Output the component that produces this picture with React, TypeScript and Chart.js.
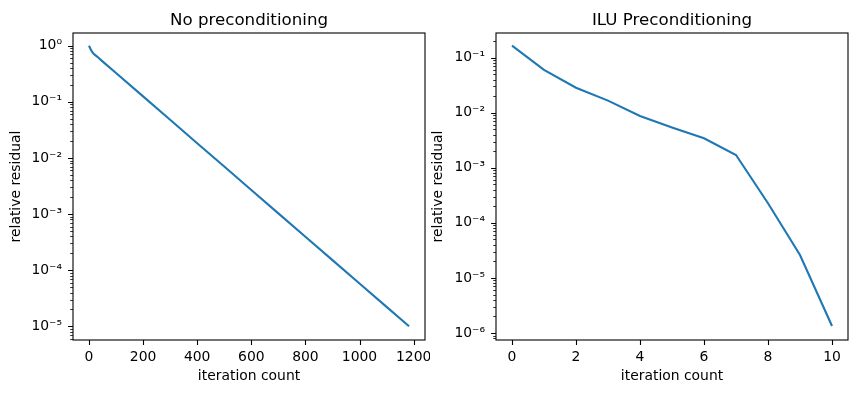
import React, { useEffect, useRef } from "react";
import { Chart, registerables } from "chart.js";
Chart.register(...registerables);

// ---- data ----
const plainIters = [0, 5, 10, 15, 20, 30, 50, 100, 200, 300, 400, 500, 600, 700, 800, 900, 1000, 1100, 1183];
const plainResidual = [1.0, 0.89, 0.8, 0.74, 0.7, 0.64, 0.526, 0.325, 0.125, 0.0478, 0.0183, 0.00702, 0.00269, 0.00103, 3.94e-4, 1.51e-4, 5.79e-5, 2.22e-5, 1.0e-5];
const iluIters = [0, 1, 2, 3, 4, 5, 6, 7, 8, 9, 10];
const iluResidual = [0.165, 0.06, 0.0285, 0.0166, 0.00873, 0.0054, 0.00344, 0.00171, 2.27e-4, 2.61e-5, 1.34e-6];

const plainXTicks = [0, 200, 400, 600, 800, 1000, 1200];
const plainYTicks = [1e-5, 1e-4, 1e-3, 1e-2, 1e-1, 1];
const iluXTicks = [0, 2, 4, 6, 8, 10];
const iluYTicks = [1e-6, 1e-5, 1e-4, 1e-3, 1e-2, 1e-1];

const titles = ["No preconditioning", "ILU Preconditioning"];
const xLabel = "iteration count";
const yLabel = "relative residual";

const FONT = '"DejaVu Sans", sans-serif';
const BLUE = "#1f77b4";

const SUP: Record<string, string> = {
  "-": "\u207B", "0": "\u2070", "1": "\u00B9", "2": "\u00B2", "3": "\u00B3",
  "4": "\u2074", "5": "\u2075", "6": "\u2076", "7": "\u2077", "8": "\u2078", "9": "\u2079",
};
const pow10Label = (v: number) => {
  const e = Math.round(Math.log10(v));
  return "10" + String(e).split("").map((c) => SUP[c] || c).join("");
};

const mplFrame = {
  id: "mplFrame",
  afterDraw(chart: any, _args: any, opts: any) {
    const { ctx, chartArea: a, scales } = chart;
    ctx.save();
    ctx.strokeStyle = "#000";
    ctx.lineWidth = 1.1;
    ctx.strokeRect(a.left, a.top, a.right - a.left, a.bottom - a.top);
    ctx.beginPath();
    for (const t of scales.x.ticks) {
      const px = Math.round(scales.x.getPixelForValue(t.value)) + 0.5;
      ctx.moveTo(px, a.bottom);
      ctx.lineTo(px, a.bottom + 4.9);
    }
    for (const t of scales.y.ticks) {
      const py = Math.round(scales.y.getPixelForValue(t.value)) + 0.5;
      ctx.moveTo(a.left, py);
      ctx.lineTo(a.left - 4.9, py);
    }
    ctx.stroke();
    ctx.lineWidth = 0.8;
    ctx.beginPath();
    const ymin = scales.y.min, ymax = scales.y.max;
    for (let e = Math.floor(Math.log10(ymin)); e <= Math.ceil(Math.log10(ymax)); e++) {
      for (let m = 2; m <= 9; m++) {
        const v = m * Math.pow(10, e);
        if (v < ymin || v > ymax) continue;
        const py = Math.round(scales.y.getPixelForValue(v)) + 0.5;
        ctx.moveTo(a.left, py);
        ctx.lineTo(a.left - 2.8, py);
      }
    }
    ctx.stroke();
    ctx.fillStyle = "#000";
    ctx.font = `16.67px ${FONT}`;
    ctx.textAlign = "center";
    ctx.textBaseline = "alphabetic";
    ctx.fillText(opts.title, (a.left + a.right) / 2, 24.5);
    ctx.restore();
  },
};

type Cfg = {
  title: string;
  xs: number[];
  ys: number[];
  xMin: number;
  xMax: number;
  yMin: number;
  yMax: number;
  xTicks: number[];
  yTicks: number[];
  yAxisWidth: number;
  rightPad: number;
  yTitlePad: number;
};

function Panel({ cfg, left, width }: { cfg: Cfg; left: number; width: number }) {
  const ref = useRef<HTMLCanvasElement>(null);
  useEffect(() => {
    const canvas = ref.current!;
    const chart = new Chart(canvas, {
      type: "line",
      data: {
        datasets: [
          {
            data: cfg.xs.map((x, i) => ({ x, y: cfg.ys[i] })),
            borderColor: BLUE,
            borderWidth: 2.1,
            pointRadius: 0,
            tension: 0,
            fill: false,
          },
        ],
      },
      options: {
        animation: false,
        responsive: false,
        devicePixelRatio: 1,
        layout: { padding: { left: 0, right: cfg.rightPad, top: 33, bottom: 0 } },
        plugins: {
          legend: { display: false },
          tooltip: { enabled: false },
          title: { display: false },
          mplFrame: { title: cfg.title },
        } as any,
        scales: {
          x: {
            type: "linear",
            min: cfg.xMin,
            max: cfg.xMax,
            grid: { display: false, drawTicks: false },
            border: { display: false },
            afterBuildTicks: (s: any) => {
              s.ticks = cfg.xTicks.map((v) => ({ value: v }));
            },
            afterFit: (s: any) => {
              s.height = 53;
              s.paddingLeft = 0;
              s.paddingRight = 0;
            },
            ticks: {
              color: "#000",
              font: { family: FONT, size: 13.9 },
              padding: 9,
              maxRotation: 0,
              autoSkip: false,
              callback: (v: any) => String(v),
            },
            title: {
              display: true,
              text: xLabel,
              color: "#000",
              font: { family: FONT, size: 13.9 },
              padding: { top: 0, bottom: 8.6 },
            },
          },
          y: {
            type: "logarithmic",
            min: cfg.yMin,
            max: cfg.yMax,
            grid: { display: false, drawTicks: false },
            border: { display: false },
            afterBuildTicks: (s: any) => {
              s.ticks = cfg.yTicks.map((v) => ({ value: v }));
            },
            afterFit: (s: any) => {
              s.width = cfg.yAxisWidth;
              s.paddingTop = 0;
              s.paddingBottom = 0;
            },
            ticks: {
              color: "#000",
              font: { family: FONT, size: 13.9 },
              padding: 11,
              autoSkip: false,
              callback: (v: any) => pow10Label(Number(v)),
            },
            title: {
              display: true,
              text: yLabel,
              color: "#000",
              font: { family: FONT, size: 13.9 },
              padding: { top: cfg.yTitlePad, bottom: 0 },
            },
          },
        },
      },
      plugins: [mplFrame as any],
    });
    return () => chart.destroy();
  }, []);
  return (
    <div style={{ position: "absolute", left, top: 0, width, height: 393 }}>
      <canvas ref={ref} width={width} height={393} style={{ display: "block" }} />
    </div>
  );
}

const plainCfg: Cfg = {
  title: titles[0],
  xs: plainIters,
  ys: plainResidual,
  xMin: -59,
  xMax: 1242,
  yMin: Math.pow(10, -5.244),
  yMax: Math.pow(10, 0.226),
  xTicks: plainXTicks,
  yTicks: plainYTicks,
  yAxisWidth: 73,
  rightPad: 5,
  yTitlePad: 8.3,
};

const iluCfg: Cfg = {
  title: titles[1],
  xs: iluIters,
  ys: iluResidual,
  xMin: -0.5,
  xMax: 10.5,
  yMin: Math.pow(10, -6.127),
  yMax: Math.pow(10, -0.552),
  xTicks: iluXTicks,
  yTicks: iluYTicks,
  yAxisWidth: 66,
  rightPad: 9,
  yTitlePad: 0.3,
};

export default function App() {
  return (
    <div style={{ position: "absolute", left: 0, top: 0, width: 857, height: 393, background: "#fff" }}>
      <Panel cfg={plainCfg} left={0} width={430} />
      <Panel cfg={iluCfg} left={430} width={427} />
    </div>
  );
}
